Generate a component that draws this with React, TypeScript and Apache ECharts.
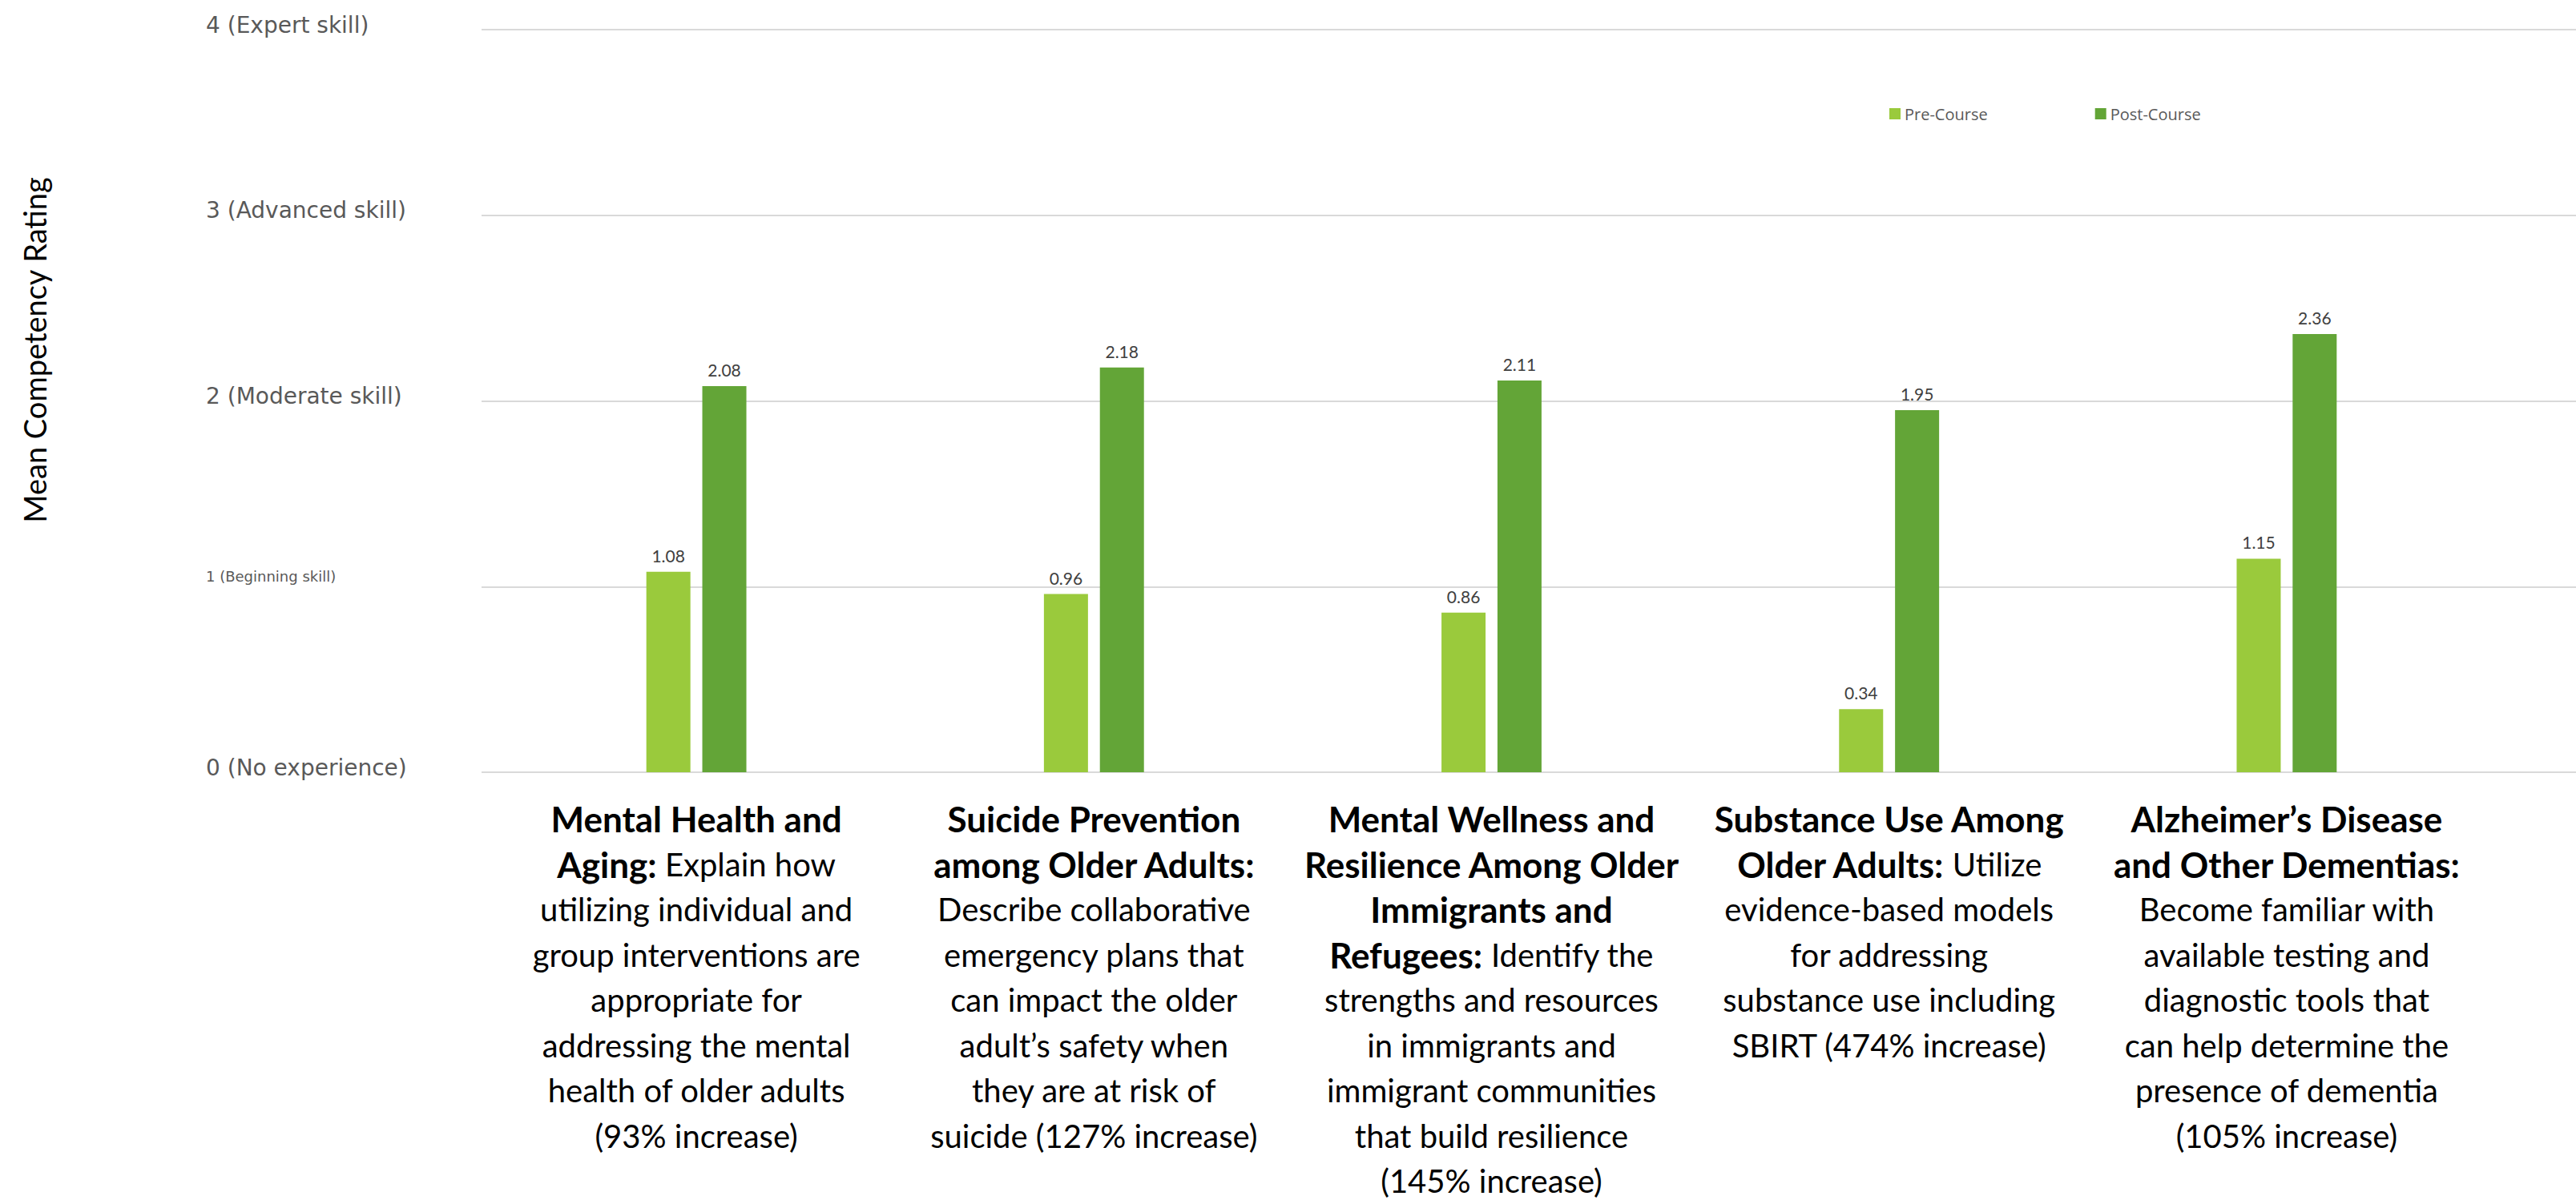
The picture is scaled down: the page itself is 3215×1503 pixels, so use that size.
import React, { useEffect, useRef } from "react";
import * as echarts from "echarts";

const seriesNames = ["Pre-Course", "Post-Course"];
const preCourse = [1.08, 0.96, 0.86, 0.34, 1.15];
const postCourse = [2.08, 2.18, 2.11, 1.95, 2.36];
const categoryKeys = ["c1", "c2", "c3", "c4", "c5"];
const categoryLabels = [
  [
    "{b|Mental Health and}",
    "{b|Aging:}{r| Explain how}",
    "{r|utilizing individual and}",
    "{r|group interventions are}",
    "{r|appropriate for}",
    "{r|addressing the mental}",
    "{r|health of older adults}",
    "{r|(93% increase)}",
  ],
  [
    "{b|Suicide Prevention}",
    "{b|among Older Adults:}",
    "{r|Describe collaborative}",
    "{r|emergency plans that}",
    "{r|can impact the older}",
    "{r|adult’s safety when}",
    "{r|they are at risk of}",
    "{r|suicide (127% increase)}",
  ],
  [
    "{b|Mental Wellness and}",
    "{b|Resilience Among Older}",
    "{b|Immigrants and}",
    "{b|Refugees:}{r| Identify the}",
    "{r|strengths and resources}",
    "{r|in immigrants and}",
    "{r|immigrant communities}",
    "{r|that build resilience}",
    "{r|(145% increase)}",
  ],
  [
    "{b|Substance Use Among}",
    "{b|Older Adults:}{r| Utilize}",
    "{r|evidence-based models}",
    "{r|for addressing}",
    "{r|substance use including}",
    "{r|SBIRT (474% increase)}",
  ],
  [
    "{b|Alzheimer’s Disease}",
    "{b|and Other Dementias:}",
    "{r|Become familiar with}",
    "{r|available testing and}",
    "{r|diagnostic tools that}",
    "{r|can help determine the}",
    "{r|presence of dementia}",
    "{r|(105% increase)}",
  ],
];
const yTickLabels = [
  "{big|0 (No experience)}",
  "{small|1 (Beginning skill)}",
  "{big|2 (Moderate skill)}",
  "{big|3 (Advanced skill)}",
  "{big|4 (Expert skill)}",
];
const yAxisTitle = "Mean Competency Rating";

const W = 3215;
const H = 1503;

export default function App() {
  const ref = useRef<HTMLDivElement>(null);
  useEffect(() => {
    document.body.style.margin = "0";
    if (!ref.current) return;
    const chart = echarts.init(ref.current, undefined, { renderer: "svg" });
    const labelFont = "Lato, 'Noto Sans', sans-serif";
    const option: any = {
      animation: false,
      backgroundColor: "#ffffff",
      legend: {
        data: seriesNames,
        left: 2353,
        top: 127,
        icon: "rect",
        itemWidth: 14,
        itemHeight: 14,
        itemGap: 134,
        textStyle: { fontSize: 20, color: "#595959", fontFamily: "'Open Sans', sans-serif" },
      },
      grid: [
        { left: 621, right: 113, top: 37, bottom: 539 },
        { left: 601, right: 0, top: 37, bottom: 539 },
      ],
      xAxis: [
        {
          type: "category",
          gridIndex: 0,
          data: categoryKeys,
          axisLine: { show: false },
          axisTick: { show: false },
          axisLabel: {
            interval: 0,
            margin: 30,
            align: "center",
            verticalAlign: "top",
            formatter: (_v: string, i: number) => categoryLabels[i].join("\n"),
            rich: {
              b: { fontFamily: labelFont, fontWeight: "bold", fontSize: 44, lineHeight: 56.5, color: "#000" },
              r: { fontFamily: labelFont, fontWeight: "normal", fontSize: 40, lineHeight: 56.5, color: "#000" },
            },
          },
        },
        { type: "value", gridIndex: 1, show: false, min: 0, max: 1 },
      ],
      yAxis: [
        { type: "value", gridIndex: 0, min: 0, max: 4, interval: 1, show: false },
        {
          type: "value",
          gridIndex: 1,
          min: 0,
          max: 4,
          interval: 1,
          axisLine: { show: false },
          axisTick: { show: false },
          splitLine: { show: true, lineStyle: { color: "#D9D9D9", width: 2 } },
          axisLabel: {
            align: "left",
            margin: 344,
            formatter: (_v: number, i: number) => yTickLabels[i],
            rich: {
              big: { fontFamily: "'DejaVu Sans', sans-serif", fontSize: 28, color: "#595959", padding: [0, 0, 12, 0] },
              small: { fontFamily: "'DejaVu Sans', sans-serif", fontSize: 18, color: "#595959", padding: [0, 0, 26, 0] },
            },
          },
        },
      ],
      graphic: [
        {
          type: "text",
          x: 43,
          y: 437,
          rotation: Math.PI / 2,
          style: {
            text: yAxisTitle,
            font: "38px Lato, sans-serif",
            fill: "#000",
            textAlign: "center",
            textVerticalAlign: "middle",
          },
        },
      ],
      series: [
        {
          name: seriesNames[0],
          type: "bar",
          xAxisIndex: 0,
          yAxisIndex: 0,
          data: preCourse,
          barWidth: 55,
          barGap: "27%",
          itemStyle: { color: "#9ACA3C" },
          label: {
            show: true,
            position: "top",
            distance: 10,
            fontSize: 21,
            color: "#404040",
            fontFamily: labelFont,
            formatter: (p: any) => p.value.toFixed(2),
          },
        },
        {
          name: seriesNames[1],
          type: "bar",
          xAxisIndex: 0,
          yAxisIndex: 0,
          data: postCourse,
          barWidth: 55,
          barGap: "27%",
          itemStyle: { color: "#63A537" },
          label: {
            show: true,
            position: "top",
            distance: 10,
            fontSize: 21,
            color: "#404040",
            fontFamily: labelFont,
            formatter: (p: any) => p.value.toFixed(2),
          },
        },
      ],
    };
    chart.setOption(option);
    return () => chart.dispose();
  }, []);
  return <div ref={ref} style={{ width: W, height: H }} />;
}
